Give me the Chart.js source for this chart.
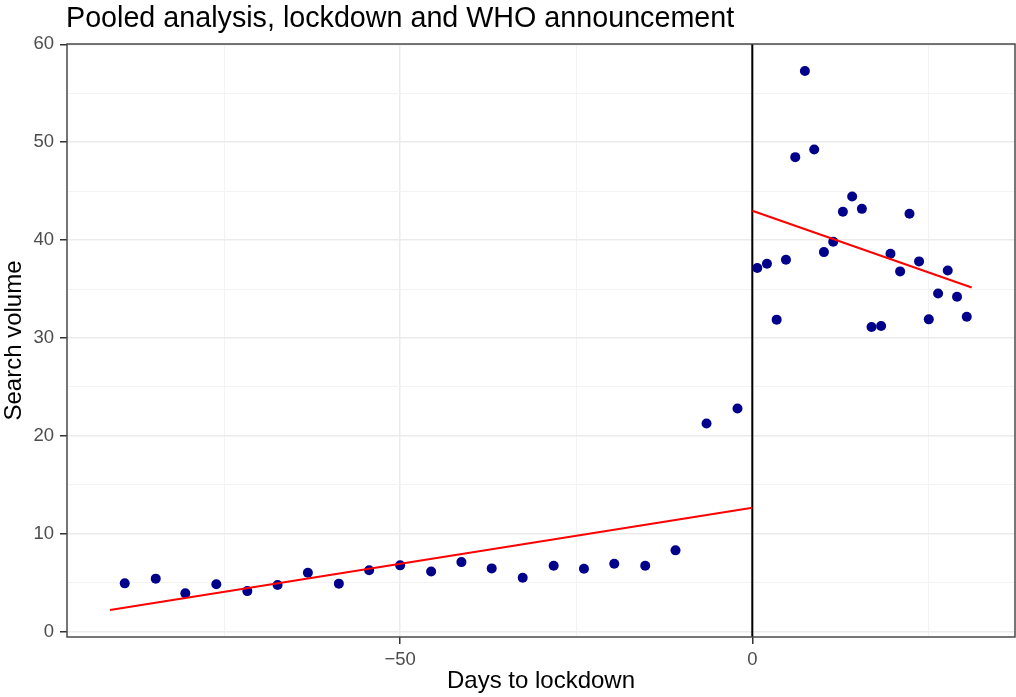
<!DOCTYPE html>
<html>
<head>
<meta charset="utf-8">
<title>Pooled analysis, lockdown and WHO announcement</title>
<script src="https://cdn.jsdelivr.net/npm/chart.js@4.4.1/dist/chart.umd.min.js"></script>
<style>
html, body { margin: 0; padding: 0; background: #fff; }
#wrap { width: 1016px; height: 697px; }
</style>
</head>
<body>
<div id="wrap"><canvas id="chart" width="1016" height="697"></canvas></div>
<script>
// weekly points before lockdown
var preDays = [-89.1, -84.7, -80.5, -76.1, -71.7, -67.4, -63.1, -58.7, -54.4, -50.0, -45.6,
               -41.3, -37.0, -32.6, -28.2, -23.9, -19.6, -15.2, -10.9, -6.5, -2.1];
var preVolume = [4.93, 5.41, 3.91, 4.83, 4.14, 4.76, 6.02, 4.90, 6.26, 6.77, 6.15,
                 7.10, 6.46, 5.51, 6.73, 6.43, 6.94, 6.73, 8.30, 21.26, 22.79];

// points after lockdown
var postDays = [0.71, 2.08, 3.46, 4.78, 6.10, 7.47, 8.79, 10.17, 11.49, 12.86, 14.18, 15.56,
                16.93, 18.29, 19.62, 20.99, 22.32, 23.68, 25.06, 26.38, 27.75, 29.07, 30.45];
var postVolume = [37.14, 37.58, 31.87, 37.99, 48.47, 57.28, 49.25, 38.77, 39.83, 42.89, 44.45, 43.19,
                  31.12, 31.22, 38.60, 36.80, 42.68, 37.82, 31.90, 34.55, 36.90, 34.21, 32.17];

// fitted trend lines (end points)
var fitPreDays = [-91.2, 0];
var fitPreVolume = [2.20, 12.65];
var fitPostDays = [0, 31.15];
var fitPostVolume = [42.99, 35.16];

var lockdownDay = 0;

var xTicks = [-75, -50, -25, 0, 25];
var xLabelled = [-50, 0];
var yTicks = [0, 5, 10, 15, 20, 25, 30, 35, 40, 45, 50, 55, 60];
var yLabelled = [0, 10, 20, 30, 40, 50, 60];

var titleText = 'Pooled analysis, lockdown and WHO announcement';
var fontFamily = '"Liberation Sans", Arial, Helvetica, sans-serif';

function toPoints(xs, ys) {
  return xs.map(function(x, i) { return { x: x, y: ys[i] }; });
}

function isMajor(list, v) {
  return list.indexOf(v) !== -1;
}

function fmt(v) {
  return v < 0 ? '\u2212' + Math.abs(v) : String(v);
}

var panelPlugin = {
  id: 'panel',
  beforeDatasetsDraw: function(chart) {
    var ctx = chart.ctx;
    var area = chart.chartArea;
    var x = chart.scales.x.getPixelForValue(lockdownDay);
    ctx.save();
    ctx.strokeStyle = '#000';
    ctx.lineWidth = 2;
    ctx.beginPath();
    ctx.moveTo(x, area.top);
    ctx.lineTo(x, area.bottom);
    ctx.stroke();
    ctx.restore();
  },
  afterDraw: function(chart) {
    var ctx = chart.ctx;
    var area = chart.chartArea;
    ctx.save();
    // panel border
    ctx.strokeStyle = '#4a4a4a';
    ctx.lineWidth = 1.5;
    ctx.strokeRect(area.left, area.top, area.right - area.left, area.bottom - area.top);
    // plot title
    ctx.fillStyle = '#000';
    ctx.font = '28.7px ' + fontFamily;
    ctx.textAlign = 'left';
    ctx.textBaseline = 'alphabetic';
    ctx.fillText(titleText, area.left - 1, 27);
    ctx.restore();
  }
};

var ctx = document.getElementById('chart').getContext('2d');
var chart = new Chart(ctx, {
  type: 'scatter',
  data: {
    datasets: [
      {
        label: 'before',
        data: toPoints(preDays, preVolume),
        backgroundColor: '#00008b',
        borderColor: '#00008b',
        pointRadius: 5,
        pointBorderWidth: 0,
        order: 1
      },
      {
        label: 'after',
        data: toPoints(postDays, postVolume),
        backgroundColor: '#00008b',
        borderColor: '#00008b',
        pointRadius: 5,
        pointBorderWidth: 0,
        order: 1
      },
      {
        label: 'trend before',
        type: 'line',
        data: toPoints(fitPreDays, fitPreVolume),
        borderColor: '#ff0000',
        borderWidth: 2,
        pointRadius: 0,
        fill: false,
        order: 0
      },
      {
        label: 'trend after',
        type: 'line',
        data: toPoints(fitPostDays, fitPostVolume),
        borderColor: '#ff0000',
        borderWidth: 2,
        pointRadius: 0,
        fill: false,
        order: 0
      }
    ]
  },
  options: {
    responsive: false,
    animation: false,
    devicePixelRatio: 1,
    layout: { autoPadding: false, padding: { top: 44, left: 0, right: 1, bottom: 0 } },
    plugins: {
      legend: { display: false },
      tooltip: { enabled: false },
      title: { display: false }
    },
    scales: {
      x: {
        type: 'linear',
        min: -97.3,
        max: 37.3,
        afterBuildTicks: function(s) {
          s.ticks = xTicks.map(function(v) { return { value: v }; });
        },
        afterFit: function(s) { s.height = 60; },
        border: { display: false },
        grid: {
          color: function(c) { return isMajor(xLabelled, c.tick && c.tick.value) ? '#ebebeb' : '#f3f3f3'; },
          lineWidth: function(c) { return isMajor(xLabelled, c.tick && c.tick.value) ? 1.5 : 1; },
          tickColor: function(c) { return isMajor(xLabelled, c.tick && c.tick.value) ? '#333' : 'rgba(0,0,0,0)'; },
          tickLength: 7,
          tickWidth: 1.5
        },
        ticks: {
          autoSkip: false,
          maxRotation: 0,
          padding: 5,
          color: '#4d4d4d',
          font: { family: fontFamily, size: 18.5 },
          callback: function(v) { return isMajor(xLabelled, v) ? fmt(v) : ''; }
        },
        title: {
          display: true,
          text: 'Days to lockdown',
          color: '#000',
          font: { family: fontFamily, size: 24 },
          padding: { top: 0, bottom: 1 }
        }
      },
      y: {
        type: 'linear',
        min: -0.55,
        max: 60.03,
        afterBuildTicks: function(s) {
          s.ticks = yTicks.map(function(v) { return { value: v }; });
        },
        afterFit: function(s) { s.width = 67; },
        border: { display: false },
        grid: {
          color: function(c) { return isMajor(yLabelled, c.tick && c.tick.value) ? '#ebebeb' : '#f3f3f3'; },
          lineWidth: function(c) { return isMajor(yLabelled, c.tick && c.tick.value) ? 1.5 : 1; },
          tickColor: function(c) { return isMajor(yLabelled, c.tick && c.tick.value) ? '#333' : 'rgba(0,0,0,0)'; },
          tickLength: 7,
          tickWidth: 1.5
        },
        ticks: {
          autoSkip: false,
          padding: 6,
          color: '#4d4d4d',
          font: { family: fontFamily, size: 18.5 },
          callback: function(v) { return isMajor(yLabelled, v) ? fmt(v) : ''; }
        },
        title: {
          display: true,
          text: 'Search volume',
          color: '#000',
          font: { family: fontFamily, size: 24 },
          padding: { top: 0, bottom: 0 }
        }
      }
    }
  },
  plugins: [panelPlugin]
});
</script>
</body>
</html>
